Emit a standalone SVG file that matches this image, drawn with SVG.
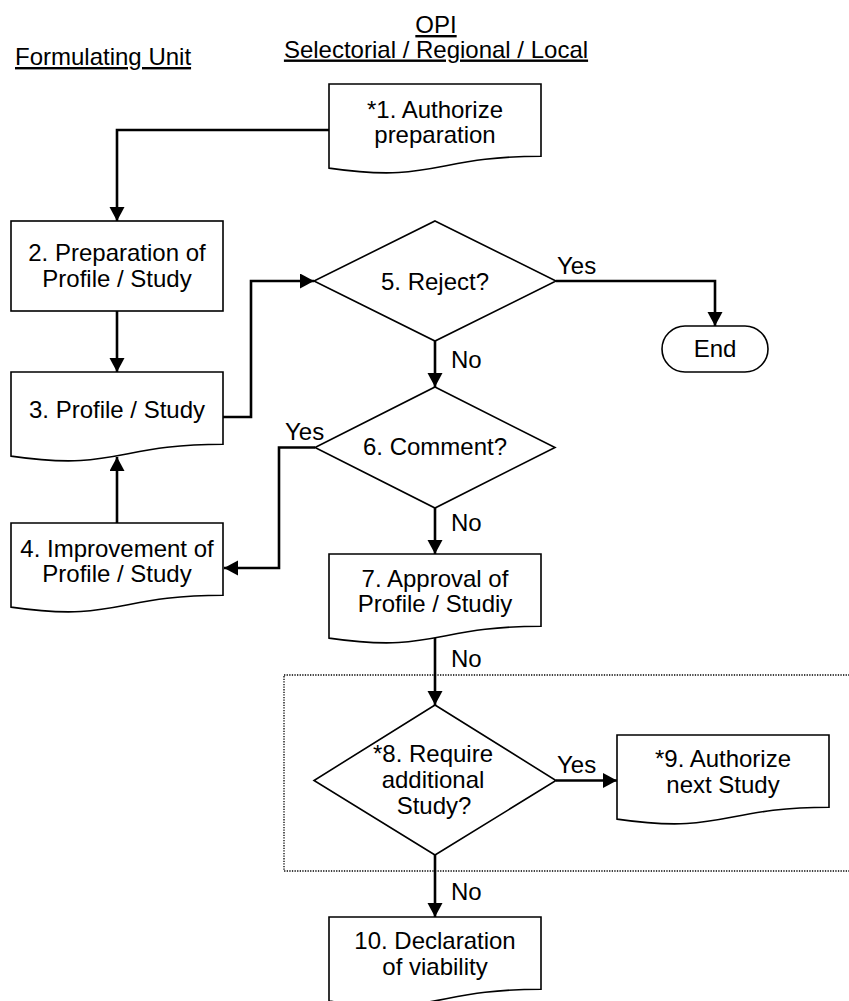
<svg xmlns="http://www.w3.org/2000/svg" width="849" height="1001" viewBox="0 0 849 1001">
  <style>
    text { font-family: "Liberation Sans", Arial, sans-serif; font-size: 24px; fill: #000; }
    .c { text-anchor: middle; }
    .hdr { text-decoration: underline; }
    .shape { fill: #fff; stroke: #000; stroke-width: 1.6; }
    .conn { fill: none; stroke: #000; stroke-width: 2.6; marker-end: url(#arrow); }
    .plain { fill: none; stroke: #000; stroke-width: 2.6; }
    .group { fill: none; stroke: #000; stroke-width: 1.3; stroke-dasharray: 1.3 1.3; }
  </style>
  <defs>
    <marker id="arrow" markerUnits="userSpaceOnUse" markerWidth="15" markerHeight="16" refX="14" refY="7.5" orient="auto">
      <path d="M0,0 L14,7.5 L0,15 Z" fill="#000"/>
    </marker>
  </defs>

  <rect width="849" height="1001" fill="#fff"/>

  <!-- lane headings -->
  <g id="headings">
    <text class="hdr" x="15" y="65">Formulating Unit</text>
    <text class="c hdr" x="436" y="33">OPI</text>
    <text class="c hdr" x="436" y="57.5">Selectorial / Regional / Local</text>
  </g>

  <!-- optional study block -->
  <rect id="optional-block" class="group" x="284" y="675" width="580" height="196"/>

  <!-- connectors -->
  <g id="connectors">
    <path class="conn" d="M329,130 H117 V221"/>
    <path class="conn" d="M117,311 V372"/>
    <path class="conn" d="M223,417 H251 V281 H314"/>
    <path class="conn" d="M556,281 H715 V326"/>
    <path class="conn" d="M435,341 V387"/>
    <path class="conn" d="M315,447.5 H279 V568 H224"/>
    <path class="conn" d="M435,508 V554"/>
    <path class="conn" d="M117,523 V457"/>
    <path class="conn" d="M435,638 V705"/>
    <path class="conn" d="M556,780.5 H617"/>
    <path class="conn" d="M435,855 V917"/>
    <text x="557" y="274">Yes</text>
    <text x="451" y="368">No</text>
    <text x="285" y="440">Yes</text>
    <text x="451" y="531">No</text>
    <text x="451" y="667">No</text>
    <text x="557" y="773">Yes</text>
    <text x="451" y="900">No</text>
  </g>

  <!-- 1. authorize preparation (document) -->
  <g id="n1">
    <path class="shape" d="M329,84 H541 V156.2 C435,156.2 435,183.6 329,168.1 Z"/>
    <text class="c" x="435" y="117.5">*1. Authorize</text>
    <text class="c" x="435" y="143">preparation</text>
  </g>

  <!-- 2. preparation (process) -->
  <g id="n2">
    <rect class="shape" x="11" y="221" width="212" height="90"/>
    <text class="c" x="117" y="261">2. Preparation of</text>
    <text class="c" x="117" y="287">Profile / Study</text>
  </g>

  <!-- 3. profile / study (document) -->
  <g id="n3">
    <path class="shape" d="M11,372 H223 V444.2 C117,444.2 117,471.6 11,456.1 Z"/>
    <text class="c" x="117" y="418">3. Profile / Study</text>
  </g>

  <!-- 4. improvement (document) -->
  <g id="n4">
    <path class="shape" d="M11,523 H223 V595.2 C117,595.2 117,622.6 11,607.1 Z"/>
    <text class="c" x="117" y="557">4. Improvement of</text>
    <text class="c" x="117" y="582">Profile / Study</text>
  </g>

  <!-- 5. reject? (decision) -->
  <g id="n5">
    <polygon class="shape" points="435,221 556,281 435,341 314,281"/>
    <text class="c" x="435" y="290">5. Reject?</text>
  </g>

  <!-- end (terminator) -->
  <g id="end">
    <rect class="shape" x="662" y="326" width="106" height="46" rx="23" ry="23"/>
    <text class="c" x="715" y="357">End</text>
  </g>

  <!-- 6. comment? (decision) -->
  <g id="n6">
    <polygon class="shape" points="435,387 555,447.5 435,508 315,447.5"/>
    <text class="c" x="435" y="455">6. Comment?</text>
  </g>

  <!-- 7. approval (document) -->
  <g id="n7">
    <path class="shape" d="M329,554 H541 V626.2 C435,626.2 435,653.6 329,638.1 Z"/>
    <text class="c" x="435" y="587">7. Approval of</text>
    <text class="c" x="435" y="612">Profile / Studiy</text>
  </g>

  <!-- 8. require additional study? (decision) -->
  <g id="n8">
    <polygon class="shape" points="435,705 556,780.5 435,855 314,780.5"/>
    <text class="c" x="433" y="762">*8. Require</text>
    <text class="c" x="433" y="788">additional</text>
    <text class="c" x="434" y="814">Study?</text>
  </g>

  <!-- 9. authorize next study (document) -->
  <g id="n9">
    <path class="shape" d="M617,735 H829 V807.2 C723,807.2 723,834.6 617,819.1 Z"/>
    <text class="c" x="723" y="767">*9. Authorize</text>
    <text class="c" x="723" y="793">next Study</text>
  </g>

  <!-- 10. declaration of viability (document) -->
  <g id="n10">
    <path class="shape" d="M329,917 H541 V989.2 C435,989.2 435,1016.6 329,1001.1 Z"/>
    <text class="c" x="435" y="948.5">10. Declaration</text>
    <text class="c" x="435" y="975">of viability</text>
  </g>
</svg>
